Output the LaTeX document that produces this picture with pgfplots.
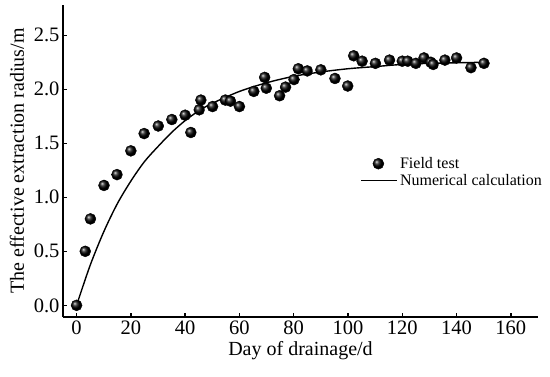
\documentclass[border=0pt]{standalone}
\usepackage{fontspec}
\setmainfont{Liberation Serif}
\usepackage{pgfplots}
\pgfplotsset{compat=1.18}
\pgfplotsset{
  legmark/.style={legend image code/.code={\draw[##1] plot coordinates {(17pt,0pt)};}},
  legline/.style={legend image code/.code={\draw[##1] (0pt,0pt) -- (36pt,0pt);}},
}
\begin{document}
\begin{tikzpicture}
\begin{axis}[
  name=ax,
  scale only axis,
  width=475pt, height=312pt,
  xmin=-5, xmax=170, ymin=-0.108, ymax=2.78,
  axis x line=bottom, axis y line=left,
  axis line style={-, line width=1.6pt},
  tick style={line width=1.4pt, black},
  tick align=inside,
  major tick length=4pt,
  xtick={0,20,...,160},
  ytick={0,0.5,...,2.5},
  yticklabel style={/pgf/number format/fixed, /pgf/number format/fixed zerofill, /pgf/number format/precision=1},
  /pgf/number format/assume math mode=true,
  tick label style={font=\fontsize{20.5}{20.5}\selectfont},
  label style={font=\fontsize{20}{20}\selectfont},
  xlabel={Day of drainage/d},
  ylabel={The effective extraction radius/m},
  ylabel style={yshift=3pt},
  legend style={draw=none, fill=none, font=\fontsize{16}{16}\selectfont, at={(rel axis cs:0.62,0.525)}, anchor=north west, row sep=0pt},
  legend cell align=left,
]
\addplot[only marks, mark=ball, mark size=5.5pt, mark options={ball color=black}, legmark]
coordinates {
(0,0.00) (3.2,0.50) (5.1,0.80) (10.1,1.11) (14.9,1.21) (20,1.43) (24.9,1.59) (30.1,1.66)
(35.1,1.72) (40,1.76) (42.1,1.60) (45.2,1.81) (45.8,1.90) (50.1,1.84) (54.8,1.90) (56.7,1.89)
(60,1.84) (65.3,1.98) (69.3,2.11) (69.9,2.01) (74.8,1.94) (77,2.02) (80.1,2.09) (81.7,2.19)
(85,2.17) (90,2.18) (95.2,2.10) (99.9,2.03) (102.1,2.31) (105.2,2.26) (110.1,2.24) (115.3,2.27)
(120,2.26) (122,2.26) (125,2.24) (128,2.29) (130.5,2.25) (131.4,2.23) (135.7,2.27) (140,2.29)
(145.3,2.20) (150.1,2.24)
};
\addlegendentry{Field test}
\addplot[black, line width=1.4pt, smooth, mark=none, legline]
coordinates {
(0,0) (5,0.37) (10,0.68) (15,0.94) (20,1.15) (25,1.33) (30,1.47) (35,1.60) (40,1.71)
(45,1.80) (50,1.87) (60,1.98) (70,2.06) (80,2.12) (90,2.16) (100,2.19) (110,2.21)
(120,2.23) (130,2.24) (140,2.245) (150,2.25)
};
\addlegendentry{Numerical calculation}
\end{axis}
\pgfresetboundingbox
\path (ax.south west) ++(-63pt,-59pt) rectangle ++(550pt,376pt);
\end{tikzpicture}
\end{document}
